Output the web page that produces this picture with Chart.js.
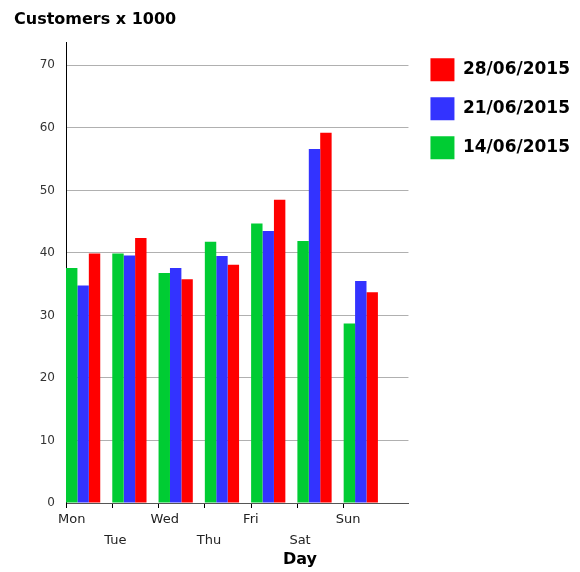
<!DOCTYPE html>
<html lang="en">
<head>
    <meta charset="UTF-8">
    <title>Customers x 1000</title>
    <script src="https://cdn.jsdelivr.net/npm/chart.js"></script>
    <style>
        body {
            margin: 0;
            background: #fff;
            font-family: "DejaVu Sans", sans-serif;
        }
        .chart-box {
            position: relative;
            width: 580px;
            height: 572px;
        }
        .axis-name {
            position: absolute;
            left: 283px;
            top: 549px;
            font: bold 16px "DejaVu Sans", sans-serif;
            color: #000;
        }
    </style>
</head>
<body>
    <div class="chart-box">
        <canvas id="customersChart"></canvas>
        <div class="axis-name">Day</div>
    </div>
    <script>
        const days = ['Mon', 'Tue', 'Wed', 'Thu', 'Fri', 'Sat', 'Sun'];
        const week14 = [37.6, 39.9, 36.8, 41.8, 44.7, 41.9, 28.7];
        const week21 = [34.8, 39.6, 37.6, 39.5, 43.5, 56.6, 35.5];
        const week28 = [39.9, 42.4, 35.8, 38.1, 48.5, 59.2, 33.7];
        const yTicks = [0, 10, 20, 30, 40, 50, 60, 70];

        const font = '"DejaVu Sans", sans-serif';
        const groupShare = 0.74;   // part of a day slot taken by the 3 bars
        const xStart = -groupShare / 2;

        function points(values) {
            return values.map((v, i) => ({ x: i, y: v }));
        }

        const ctx = document.getElementById('customersChart').getContext('2d');
        const chart = new Chart(ctx, {
            type: 'bar',
            data: {
                datasets: [
                    { label: '14/06/2015', data: points(week14), backgroundColor: '#00cc33' },
                    { label: '21/06/2015', data: points(week21), backgroundColor: '#3333ff' },
                    { label: '28/06/2015', data: points(week28), backgroundColor: '#ff0000' }
                ]
            },
            options: {
                responsive: true,
                maintainAspectRatio: false,
                animation: false,
                datasets: {
                    bar: { barPercentage: 1, categoryPercentage: groupShare }
                },
                layout: { padding: { left: 14, right: 0, top: 0, bottom: 0 } },
                scales: {
                    x: {
                        type: 'linear',
                        min: xStart,
                        max: xStart + days.length + 0.4,
                        offset: false,
                        afterBuildTicks: s => { s.ticks = days.map((d, i) => ({ value: i + xStart })); },
                        afterFit: s => { s.height = 69; },
                        grid: { offset: false, drawOnChartArea: false, drawTicks: true, tickLength: 5, color: '#000' },
                        border: { color: '#555' },
                        ticks: {
                            autoSkip: false,
                            minRotation: 0,
                            maxRotation: 0,
                            align: 'start',
                            labelOffset: -8,
                            padding: 2,
                            color: '#222',
                            font: { family: font, size: 13, lineHeight: 1.55 },
                            callback: (v, i) => i % 2 ? ['', days[i]] : days[i]
                        }
                    },
                    y: {
                        min: 0,
                        max: 73.7,
                        afterBuildTicks: s => { s.ticks = yTicks.map(v => ({ value: v })); },
                        afterFit: s => { s.width = 52; },
                        grid: { color: '#b0b0b0', drawTicks: false },
                        border: { color: '#000' },
                        ticks: { padding: 11, color: '#333', font: { family: font, size: 12 } }
                    },
                    yPad: {
                        type: 'linear',
                        position: 'right',
                        afterFit: s => { s.width = 6; },
                        grid: { drawOnChartArea: false, drawTicks: false },
                        border: { display: false },
                        ticks: { display: false }
                    }
                },
                plugins: {
                    title: {
                        display: true,
                        text: 'Customers x 1000',
                        align: 'start',
                        color: '#000',
                        font: { family: font, size: 16, weight: 'bold' },
                        padding: { top: 10, bottom: 13 }
                    },
                    legend: {
                        position: 'right',
                        align: 'start',
                        fullSize: false,
                        reverse: true,
                        maxWidth: 220,
                        labels: {
                            boxWidth: 24,
                            boxHeight: 23,
                            padding: 16,
                            color: '#000',
                            font: { family: font, size: 17, weight: 'bold' }
                        }
                    },
                    tooltip: { enabled: false }
                }
            }
        });
    </script>
</body>
</html>
